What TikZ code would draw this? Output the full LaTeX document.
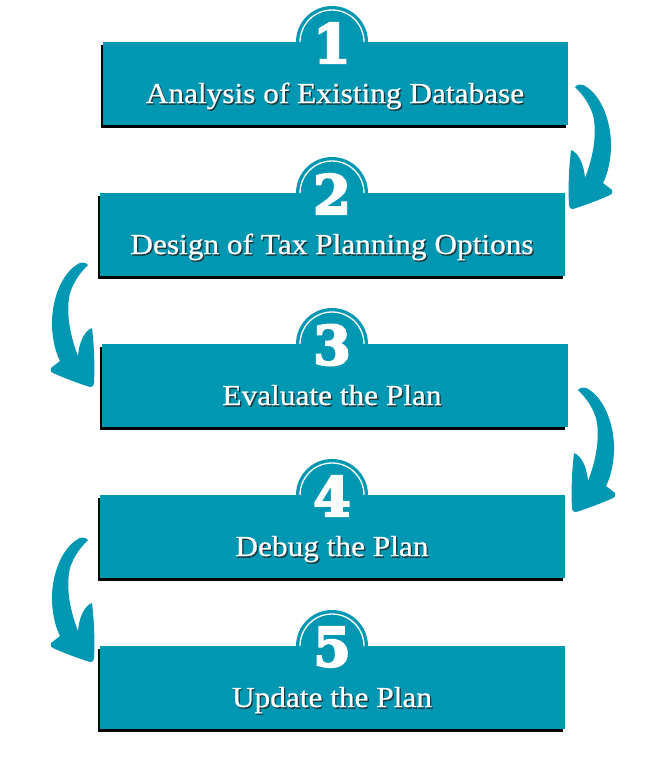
\documentclass[tikz,border=0pt]{standalone}
\usepackage{fontspec}
\setmainfont{Liberation Serif}[FakeStretch=1.08, FakeBold=0.7]
\newfontfamily\numfont[BoldFeatures={FakeBold=4}]{DejaVu Serif}
\usetikzlibrary{shadows}
\definecolor{tealc}{RGB}{0,151,178}
\definecolor{txtshadow}{RGB}{30,30,30}
\tikzset{
  stepbox/.style={fill=tealc, minimum width=465bp, minimum height=83bp, inner sep=0pt,
    drop shadow={shadow xshift=-2.2bp, shadow yshift=-3bp, fill=black, opacity=1}},
  tab/.style={circle, fill=tealc, minimum size=72bp, inner sep=0pt},
  digit/.style={text=white, font=\numfont\bfseries\fontsize{54bp}{54bp}\selectfont, inner sep=0pt},
  lbl/.style={text=white, font=\fontsize{29bp}{32bp}\selectfont, inner sep=0pt, anchor=base},
  lblshadow/.style={text=txtshadow, font=\fontsize{29bp}{32bp}\selectfont, inner sep=0pt, anchor=base, opacity=0.75},
  bendarrow/.pic={
    \fill[tealc] (0,0) .. controls (2,-3) and (8,-3) .. (10,-1)
      .. controls (26,8) and (37,35) .. (36,62)
      .. controls (35,78) and (32,88) .. (28,96)
      -- (37,103) .. controls (38,106) and (37,107) .. (35,108)
      .. controls (24,113) and (8,119) .. (-2,122)
      .. controls (-5,122) and (-6,121) .. (-6,118)
      .. controls (-7,100) and (-6,80) .. (-4,63)
      .. controls (4,66) and (9,78) .. (10,91)
      .. controls (19,68) and (22,45) .. (18,28)
      .. controls (14,16) and (8,8) .. (0,0) -- cycle;
  }
}
\begin{document}
\begin{tikzpicture}[x=1bp, y=-1bp]
  \useasboundingbox (0,0) rectangle (658,768);
  % boxes
  \node[stepbox] (b1) at (335.5,83.5) {};
  \node[stepbox] (b2) at (332.5,234.5) {};
  \node[stepbox] (b3) at (335,385.5) {};
  \node[stepbox] (b4) at (332.5,536.5) {};
  \node[stepbox] (b5) at (332.5,687.5) {};
  % tabs
  \foreach \i/\y in {1/42, 2/193, 3/344, 4/495, 5/646} {
    \node[tab] (c\i) at (332,\y) {};
    \draw[white, line width=1.3bp] (332+32,\y) arc[start angle=0, end angle=-180, radius=32];
    \node[digit] (n\i) at (332,\y+1) {\i};
  }
  % labels with shadows
  \node[lblshadow] (s1) at (336.3,104.5) {Analysis of Existing Database};
  \node[lbl] (t1) at (335,103) {Analysis of Existing Database};
  \node[lblshadow] (s2) at (333.3,255.5) {Design of Tax Planning Options};
  \node[lbl] (t2) at (332,254) {Design of Tax Planning Options};
  \node[lblshadow] (s3) at (333.3,406.5) {Evaluate the Plan};
  \node[lbl] (t3) at (332,405) {Evaluate the Plan};
  \node[lblshadow] (s4) at (333.3,557.5) {Debug the Plan};
  \node[lbl] (t4) at (332,556) {Debug the Plan};
  \node[lblshadow] (s5) at (333.3,708.5) {Update the Plan};
  \node[lbl] (t5) at (332,707) {Update the Plan};
  % curved arrows
  \pic (a1) at (575,87) {bendarrow};
  \pic[xscale=-1] (a2) at (88,265) {bendarrow};
  \pic (a3) at (578,390) {bendarrow};
  \pic[xscale=-1] (a4) at (88,540) {bendarrow};
\end{tikzpicture}
\end{document}
